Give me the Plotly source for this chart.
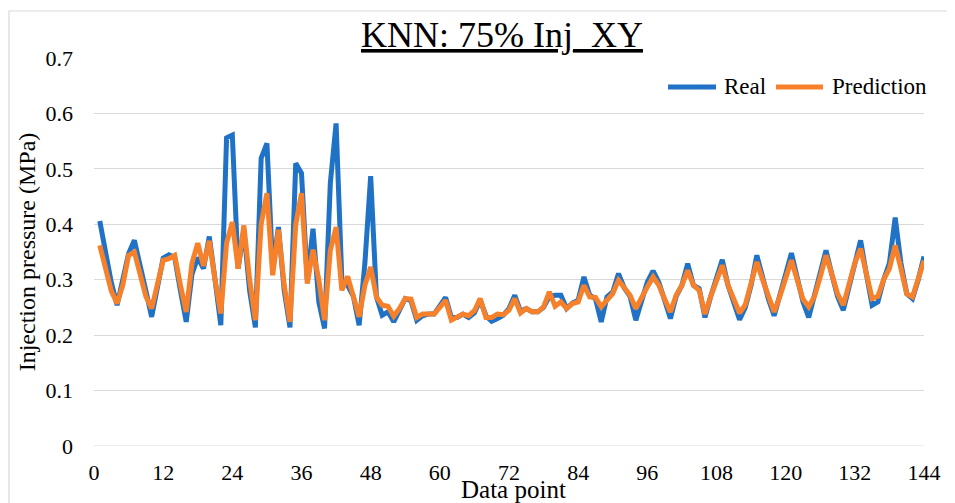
import plotly.graph_objects as go

data_point = list(range(1, 145))

real = [
    0.406, 0.350, 0.295, 0.254, 0.300, 0.347, 0.371, 0.330, 0.280, 0.233,
    0.290, 0.339, 0.345, 0.340, 0.280, 0.224, 0.310, 0.340, 0.320, 0.378,
    0.300, 0.218, 0.556, 0.561, 0.320, 0.390, 0.280, 0.214, 0.519, 0.546,
    0.320, 0.395, 0.280, 0.214, 0.510, 0.492, 0.300, 0.392, 0.260, 0.212,
    0.474, 0.582, 0.300, 0.290, 0.270, 0.218, 0.330, 0.487, 0.269, 0.236,
    0.242, 0.224, 0.245, 0.266, 0.262, 0.227, 0.235, 0.238, 0.238, 0.252,
    0.268, 0.232, 0.232, 0.238, 0.232, 0.240, 0.263, 0.235, 0.225, 0.230,
    0.236, 0.248, 0.272, 0.243, 0.248, 0.242, 0.242, 0.250, 0.270, 0.272,
    0.272, 0.248, 0.258, 0.263, 0.305, 0.272, 0.266, 0.224, 0.269, 0.278,
    0.311, 0.285, 0.270, 0.227, 0.265, 0.296, 0.316, 0.295, 0.263, 0.230,
    0.270, 0.290, 0.329, 0.290, 0.284, 0.232, 0.270, 0.305, 0.336, 0.290,
    0.260, 0.228, 0.250, 0.290, 0.344, 0.300, 0.265, 0.235, 0.270, 0.310,
    0.348, 0.300, 0.260, 0.232, 0.270, 0.310, 0.353, 0.310, 0.270, 0.245,
    0.290, 0.335, 0.371, 0.310, 0.254, 0.260, 0.300, 0.330, 0.412, 0.330,
    0.275, 0.266, 0.300, 0.342,
]

prediction = [
    0.362, 0.320, 0.280, 0.257, 0.290, 0.344, 0.350, 0.310, 0.270, 0.248,
    0.290, 0.335, 0.338, 0.344, 0.290, 0.242, 0.330, 0.366, 0.325, 0.370,
    0.300, 0.239, 0.366, 0.404, 0.320, 0.398, 0.300, 0.227, 0.400, 0.456,
    0.308, 0.390, 0.290, 0.224, 0.400, 0.456, 0.293, 0.354, 0.300, 0.227,
    0.353, 0.395, 0.281, 0.306, 0.270, 0.233, 0.290, 0.323, 0.269, 0.254,
    0.252, 0.234, 0.248, 0.266, 0.265, 0.232, 0.238, 0.238, 0.238, 0.250,
    0.263, 0.227, 0.232, 0.238, 0.235, 0.244, 0.266, 0.232, 0.232, 0.238,
    0.237, 0.245, 0.266, 0.240, 0.248, 0.242, 0.242, 0.251, 0.278, 0.252,
    0.260, 0.248, 0.257, 0.260, 0.290, 0.269, 0.268, 0.251, 0.263, 0.275,
    0.299, 0.287, 0.272, 0.248, 0.270, 0.287, 0.305, 0.290, 0.265, 0.242,
    0.272, 0.290, 0.317, 0.290, 0.281, 0.238, 0.270, 0.296, 0.326, 0.290,
    0.265, 0.240, 0.255, 0.290, 0.332, 0.300, 0.268, 0.242, 0.270, 0.305,
    0.335, 0.300, 0.265, 0.251, 0.270, 0.305, 0.344, 0.310, 0.275, 0.254,
    0.290, 0.330, 0.356, 0.310, 0.266, 0.270, 0.300, 0.320, 0.362, 0.320,
    0.275, 0.269, 0.300, 0.334,
]

series_names = ["Real", "Prediction"]
x_ticks = list(range(0, 145, 12))
y_ticks = [0, 0.1, 0.2, 0.3, 0.4, 0.5, 0.6, 0.7]
y_tick_labels = ["0", "0.1", "0.2", "0.3", "0.4", "0.5", "0.6", "0.7"]

FONT = "Liberation Serif, Times New Roman, serif"
BLUE = "#1F72C6"
ORANGE = "#F7812A"
GRID = "#D9D9D9"

fig = go.Figure()
fig.add_trace(go.Scatter(x=data_point, y=real, mode="lines", name=series_names[0],
                         line=dict(color=BLUE, width=5), showlegend=False))
fig.add_trace(go.Scatter(x=data_point, y=prediction, mode="lines", name=series_names[1],
                         line=dict(color=ORANGE, width=5), showlegend=False))

# page body has an 8px default margin, so the figure is 8px smaller than the window
fig.update_layout(
    width=947, height=495,
    margin=dict(l=86, r=31, t=50, b=57, pad=0),
    paper_bgcolor="white", plot_bgcolor="white",
    font=dict(family=FONT, size=22, color="black"),
    showlegend=False,
    xaxis=dict(range=[0, 144], tickmode="array", tickvals=x_ticks,
               showgrid=False, zeroline=False, showline=False, automargin=False,
               ticks="", ticklabelstandoff=11,
               tickfont=dict(family=FONT, size=22, color="black")),
    yaxis=dict(range=[0, 0.7], tickmode="array", tickvals=y_ticks, ticktext=y_tick_labels,
               showgrid=True, gridcolor=GRID, gridwidth=1.2, automargin=False,
               zeroline=False, showline=False, ticks="", ticklabelstandoff=20,
               tickfont=dict(family=FONT, size=22, color="black"),
               title=dict(text="Injection pressure (MPa)", standoff=3,
                          font=dict(family=FONT, size=24, color="black"))),
)

# zero gridline (same styling as other gridlines)
fig.add_hline(y=0, line=dict(color=GRID, width=1.2), layer="below")

# chart-area border (left and top edges visible)
fig.add_shape(type="rect", xref="paper", yref="paper",
              x0=-0.1024, x1=1.3, y0=-0.3, y1=1.1211,
              line=dict(color=GRID, width=1.2), fillcolor="rgba(0,0,0,0)", layer="below")

# title
fig.add_annotation(text="<u>KNN: 75% Inj_XY</u>", xref="paper", yref="paper",
                   x=0.4916, y=1.059, xanchor="center", yanchor="middle",
                   showarrow=False, font=dict(family=FONT, size=36, color="black"))

# x-axis title
fig.add_annotation(text="Data point", xref="paper", yref="paper",
                   x=0.505, y=-0.112, xanchor="center", yanchor="middle",
                   showarrow=False, font=dict(family=FONT, size=25, color="black"))

# legend drawn manually (longer line samples, as in the reference)
legend_y = 0.9253
legend_items = [
    (series_names[0], BLUE, 0.6916, 0.7494, 0.7566),
    (series_names[1], ORANGE, 0.8217, 0.8783, 0.8867),
]
for name, color, lx0, lx1, tx in legend_items:
    fig.add_shape(type="line", xref="paper", yref="paper",
                  x0=lx0, x1=lx1, y0=legend_y, y1=legend_y,
                  line=dict(color=color, width=5))
    fig.add_annotation(text=name, xref="paper", yref="paper",
                       x=tx, y=legend_y, xanchor="left", yanchor="middle",
                       showarrow=False, font=dict(family=FONT, size=23, color="black"))

fig.write_html("out.html")
